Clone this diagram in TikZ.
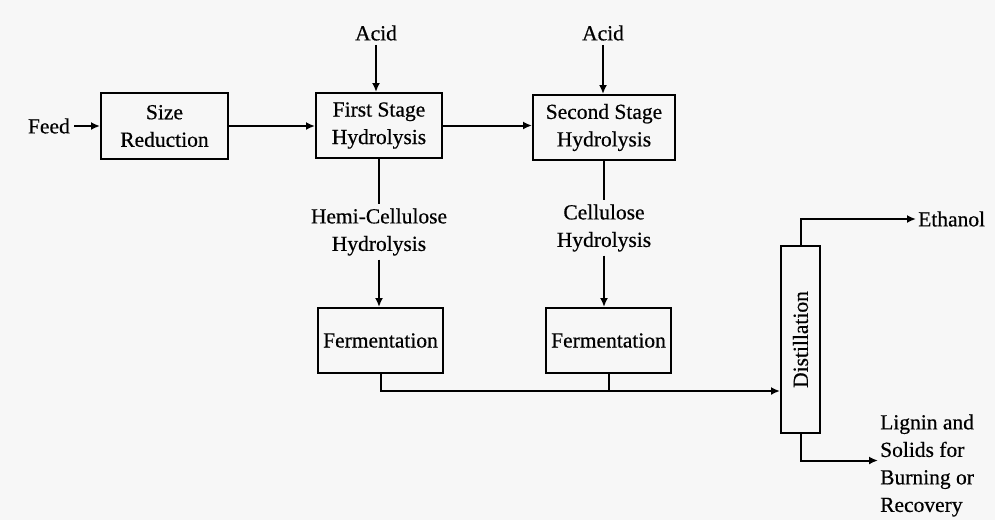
\documentclass[tikz,border=0pt]{standalone}
\usepackage{fontspec}
\setmainfont{Liberation Serif}[FakeBold=0.5]
\usetikzlibrary{arrows.meta}
\begin{document}
\begin{tikzpicture}[x=1pt,y=-1pt,
  font=\fontsize{21.5}{27.5}\selectfont,
  unit/.style={draw, line width=2pt, align=center, inner sep=2pt},
  lbl/.style={align=center, inner sep=4pt},
  flow/.style={line width=2pt, -{Latex[length=9pt,width=8pt]}},
  pipe/.style={line width=2pt}]
  \fill[white!97!black] (0,0) rectangle (995,520);
  \useasboundingbox (0,0) rectangle (995,520);

  % process units
  \node[unit, minimum width=127, minimum height=66] (size) at (164.5,126) {Size\\Reduction};
  \node[unit, minimum width=126, minimum height=65] (hyd1) at (379,125.5) {First Stage\\Hydrolysis};
  \node[unit, minimum width=142, minimum height=65] (hyd2) at (604,127.5) {Second Stage\\Hydrolysis};
  \node[unit, minimum width=125, minimum height=65] (fer1) at (380.5,340.5) {Fermentation};
  \node[unit, minimum width=125, minimum height=65] (fer2) at (608.5,340.5) {Fermentation};
  \node[unit, minimum width=39, minimum height=187, inner sep=0pt] (dist) at (800.5,339.5) {\rotatebox{90}{Distillation}};

  % streams
  \node[lbl, anchor=east] (feed) at (74,126) {Feed};
  \node[lbl] (acid1) at (376,33) {Acid};
  \node[lbl] (acid2) at (603,33) {Acid};
  \node[lbl] (hemi) at (379,232) {Hemi-Cellulose\\Hydrolysis};
  \node[lbl] (cell) at (604,228) {Cellulose\\Hydrolysis};
  \node[lbl, anchor=west, inner sep=2pt] (eth) at (916,219) {Ethanol};
  \node[lbl, anchor=west, align=left, inner sep=2pt] (lig) at (878,465.5) {Lignin and\\Solids for\\Burning or\\Recovery};

  % connections
  \draw[flow] (feed.east) -- (size.west);
  \draw[flow] (size.east) -- (size.east -| hyd1.west);
  \draw[flow] (hyd1.east) -- (hyd1.east -| hyd2.west);
  \draw[flow] (acid1.south) -- (acid1.south |- hyd1.north);
  \draw[flow] (acid2.south) -- (acid2.south |- hyd2.north);
  \draw[pipe] (hyd1.south) -- (hyd1.south |- hemi.north);
  \draw[flow] (hemi.south) -- (hemi.south |- fer1.north);
  \draw[pipe] (hyd2.south) -- (hyd2.south |- cell.north);
  \draw[flow] (cell.south) -- (cell.south |- fer2.north);
  \coordinate (bus) at (380,391);
  \draw[flow] (fer1.south) |- (dist.west |- bus);
  \draw[pipe] (fer2.south) -- (fer2.south |- bus);
  \draw[flow] (dist.north) |- (eth.west);
  \draw[flow] (dist.south) |- ([yshift=5pt]lig.west);
\end{tikzpicture}
\end{document}
